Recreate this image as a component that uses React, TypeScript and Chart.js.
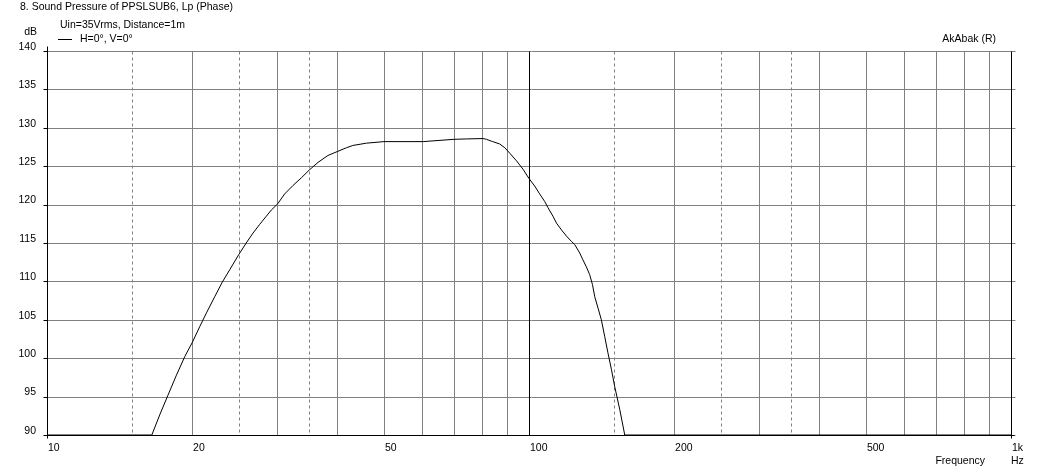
import React, { useEffect, useRef } from 'react';
import { Chart, registerables } from 'chart.js';

Chart.register(...registerables);

// Frequency (Hz) and sound pressure level (dB)
const FREQ = [
  10, 16.5, 17.13, 17.8, 18.56, 19.31, 20.0, 20.74, 21.42, 22.28, 23.1, 23.93, 25.0, 25.9, 26.76, 27.6, 28.52, 29.21,
  30.1, 31.13, 32.4, 33.72, 35.0, 36.5, 38.28, 40.0, 41.8, 43.1, 46.0, 50.0, 60.3, 69.9, 74.15, 80.3, 81.6, 84.1,
  86.9, 89.1, 91.2, 94.2, 97.2, 100, 102.8, 105.2, 107.8, 109.5, 112.1, 114.0, 116.8, 119.6, 122.5, 124.4, 127.4,
  129.4, 131.5, 133.6, 135.4, 136.9, 139.1, 141.3, 143.6, 145.8, 148.3, 150.6, 154.3, 158.0, 1000,
];
const SPL = [
  90, 90, 92.6, 95.1, 97.8, 100.2, 102.0, 104.1, 105.9, 108.0, 109.9, 111.5, 113.5, 115.0, 116.3, 117.4, 118.5, 119.3,
  120.1, 121.4, 122.5, 123.5, 124.5, 125.5, 126.4, 126.9, 127.4, 127.7, 128.0, 128.2, 128.2, 128.5, 128.55, 128.6, 128.5, 128.2,
  127.9, 127.4, 126.7, 125.7, 124.6, 123.4, 122.4, 121.4, 120.4, 119.6, 118.5, 117.6, 116.7, 115.9, 115.2, 114.8, 113.7,
  112.8, 111.9, 110.9, 109.6, 108.0, 106.5, 105.0, 102.8, 100.7, 98.5, 96.3, 93.3, 90, 90,
];

const X_MIN = 10;
const X_MAX = 1000;
const Y_MIN = 90;
const Y_MAX = 140;
const Y_STEP = 5;

const X_GRID_SOLID = [20, 30, 40, 50, 60, 70, 80, 90, 200, 300, 400, 500, 600, 700, 800, 900];
const X_GRID_DASHED = [15, 25, 35, 150, 250, 350];
const X_GRID_DARK = [100];
const X_TICK_LABELS: Record<number, string> = { 10: '10', 20: '20', 50: '50', 100: '100', 200: '200', 500: '500', 1000: '1k' };

const TITLE = '8. Sound Pressure of PPSLSUB6, Lp (Phase)';
const SUBTITLE = 'Uin=35Vrms, Distance=1m';
const SERIES_LABEL = 'H=0°, V=0°';
const BRAND = 'AkAbak (R)';
const Y_UNIT = 'dB';
const X_NAME = 'Frequency';
const X_UNIT = 'Hz';

const FAMILY = "'Liberation Sans', Arial, sans-serif";
const FONT_SIZE = 10.5;
const FONT = `${FONT_SIZE}px ${FAMILY}`;
const GRID = '#808080';

const X_TICKS = [X_MIN, ...X_GRID_DASHED, ...X_GRID_SOLID, ...X_GRID_DARK, X_MAX].sort((a, b) => a - b);

const crisp = (v: number) => Math.round(v) + 0.5;

const gridPlugin = {
  id: 'akabakGrid',
  beforeDatasetsDraw(chart: any) {
    const { ctx, chartArea: a, scales } = chart;
    const xs = scales.x;
    const ys = scales.y;
    const line = (x1: number, y1: number, x2: number, y2: number) => {
      ctx.beginPath();
      ctx.moveTo(x1, y1);
      ctx.lineTo(x2, y2);
      ctx.stroke();
    };
    ctx.save();
    ctx.lineWidth = 1;
    const L = crisp(a.left);
    const B = crisp(a.bottom);
    const T = crisp(a.top);
    const R = crisp(xs.getPixelForValue(X_MAX));
    ctx.strokeStyle = GRID;
    ys.ticks.forEach((t: any) => {
      const py = crisp(ys.getPixelForValue(t.value));
      line(L, py, R + 4, py);
    });
    X_GRID_SOLID.forEach((v) => {
      const px = crisp(xs.getPixelForValue(v));
      line(px, T, px, B);
    });
    ctx.setLineDash([3, 3]);
    X_GRID_DASHED.forEach((v) => {
      const px = crisp(xs.getPixelForValue(v));
      line(px, T, px, B);
    });
    ctx.setLineDash([]);
    ctx.strokeStyle = '#000';
    X_GRID_DARK.forEach((v) => {
      const px = crisp(xs.getPixelForValue(v));
      line(px, T, px, B);
    });
    line(L, T - 5, L, B + 3);
    line(L, B, R + 3, B);
    line(R, T, R, B + 3);
    ys.ticks.forEach((t: any) => {
      const py = crisp(ys.getPixelForValue(t.value));
      line(L - 4, py, L, py);
    });
    ctx.restore();
  },
  afterDraw(chart: any) {
    const { ctx } = chart;
    ctx.save();
    ctx.font = FONT;
    ctx.fillStyle = '#000';
    ctx.textBaseline = 'middle';
    ctx.textAlign = 'left';
    ctx.fillText(TITLE, 20, 7);
    ctx.fillText(SUBTITLE, 60, 25);
    ctx.fillText(SERIES_LABEL, 80, 39.5);
    ctx.textAlign = 'right';
    ctx.fillText(Y_UNIT, 37, 32);
    ctx.fillText(BRAND, 996, 39);
    ctx.fillText(X_NAME, 985, 461);
    ctx.textAlign = 'left';
    ctx.fillText(X_UNIT, 1011, 461);
    ctx.strokeStyle = '#000';
    ctx.lineWidth = 1;
    ctx.beginPath();
    ctx.moveTo(58, 39.5);
    ctx.lineTo(72, 39.5);
    ctx.stroke();
    ctx.restore();
  },
};

export default function App() {
  const ref = useRef<HTMLCanvasElement | null>(null);

  useEffect(() => {
    const canvas = ref.current;
    if (!canvas) return;
    const chart = new Chart(canvas, {
      type: 'line',
      data: {
        datasets: [
          {
            label: SERIES_LABEL,
            data: FREQ.map((f, i) => ({ x: f, y: SPL[i] })),
            borderColor: '#000',
            borderWidth: 1,
            pointRadius: 0,
            tension: 0,
            fill: false,
          },
        ],
      },
      options: {
        animation: false,
        responsive: false,
        events: [],
        layout: { padding: { left: 0, top: 51, right: 26, bottom: 0 } },
        plugins: {
          legend: { display: false },
          tooltip: { enabled: false },
          title: { display: false },
        },
        scales: {
          x: {
            type: 'logarithmic',
            min: X_MIN,
            max: X_MAX,
            grid: { display: false, drawTicks: false },
            border: { display: false },
            afterBuildTicks: (scale: any) => {
              scale.ticks = X_TICKS.map((v) => ({ value: v }));
            },
            afterFit: (scale: any) => {
              scale.height = 38;
            },
            ticks: {
              autoSkip: false,
              maxRotation: 0,
              minRotation: 0,
              align: 'start',
              padding: 7,
              labelOffset: 1,
              color: '#000',
              font: { family: FAMILY, size: FONT_SIZE },
              callback: (value: any) => X_TICK_LABELS[Number(value)] ?? '',
            },
          },
          y: {
            type: 'linear',
            min: Y_MIN,
            max: Y_MAX,
            grid: { display: false, drawTicks: false },
            border: { display: false },
            afterFit: (scale: any) => {
              scale.width = 47;
            },
            ticks: {
              stepSize: Y_STEP,
              padding: 11,
              labelOffset: -4,
              color: '#000',
              font: { family: FAMILY, size: FONT_SIZE },
              callback: (value: any) => String(value),
            },
          },
        },
      },
      plugins: [gridPlugin],
    } as any);
    return () => chart.destroy();
  }, []);

  return (
    <div style={{ position: 'absolute', left: 0, top: 0, width: 1037, height: 473, background: '#fff' }}>
      <canvas ref={ref} width={1037} height={473} style={{ display: 'block' }} />
    </div>
  );
}
